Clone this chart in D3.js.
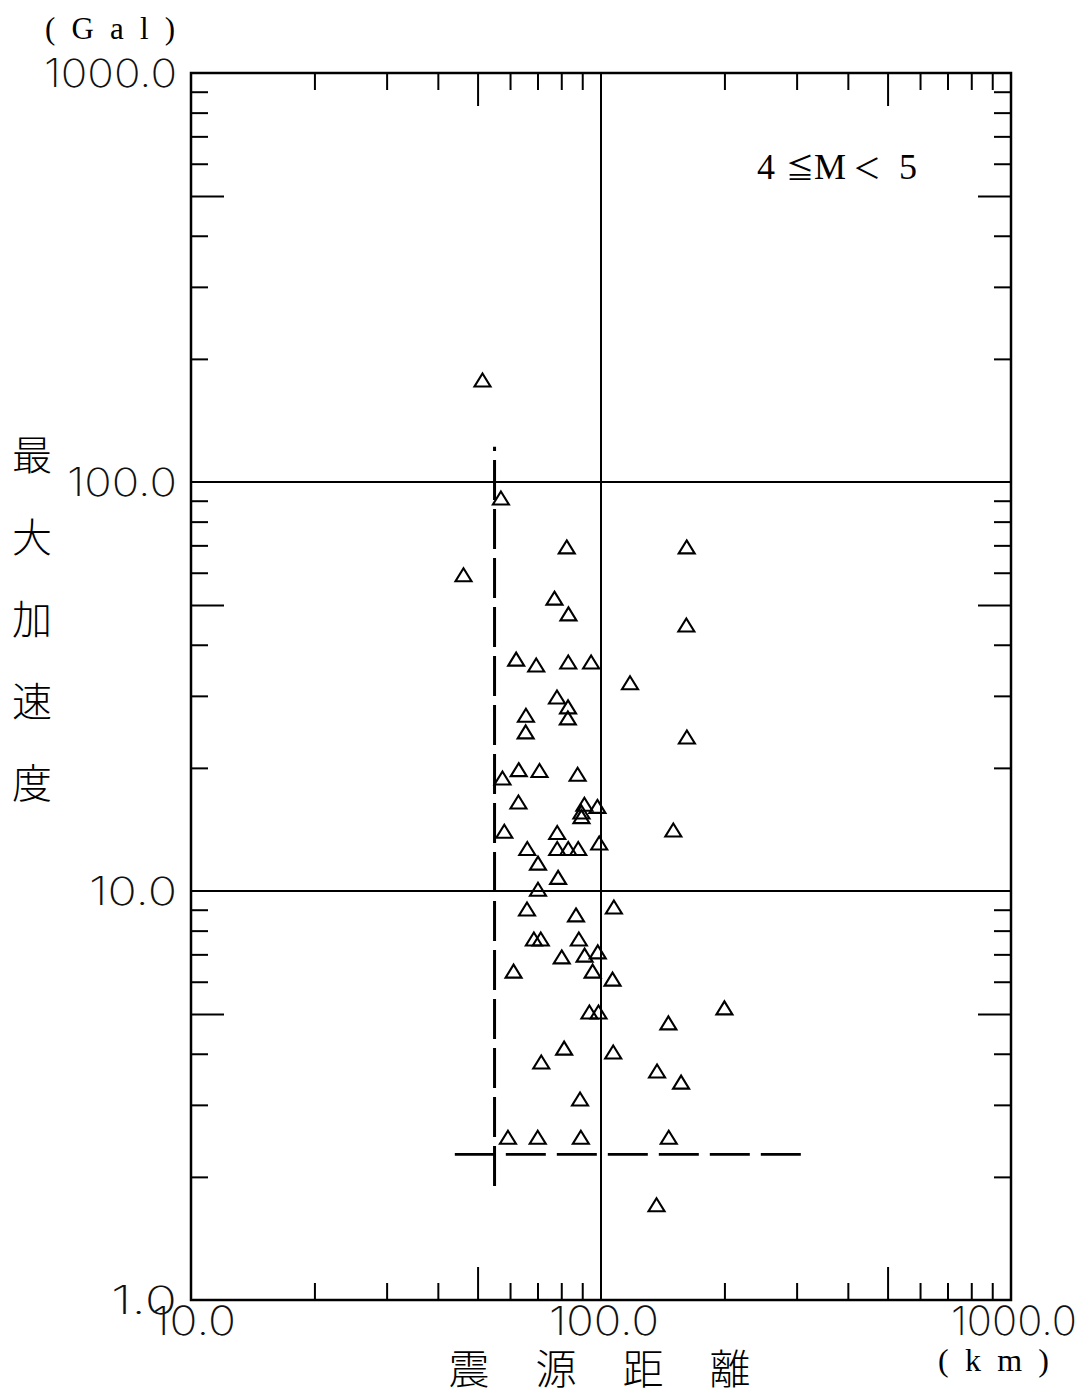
<!DOCTYPE html>
<html>
<head>
<meta charset="utf-8">
<script src="https://cdn.jsdelivr.net/npm/d3@7"></script>
<style>
  html, body { margin: 0; padding: 0; background: #fff; }
  svg { display: block; }
</style>
</head>
<body>
<svg id="chart" width="1091" height="1395"></svg>
<script>
// ---------------- data ----------------
// hypocentral distance (km)
const distances = [
  51.4, 57.0, 82.5, 161.8, 46.2, 77.0, 83.3, 161.5, 62.1, 69.5,
  83.2, 94.6, 117.7, 78.1, 83.1, 65.6, 83.0, 65.5, 162.0, 57.5,
  63.0, 70.8, 87.7, 62.9, 91.1, 98.0, 89.6, 89.6, 58.1, 78.2,
  150.1, 66.1, 78.2, 83.2, 88.0, 99.0, 70.2, 78.6, 70.2, 66.0,
  86.9, 107.5, 68.6, 71.3, 88.3, 80.2, 91.2, 98.2, 61.2, 95.4,
  106.7, 93.7, 98.6, 200.0, 146.0, 81.3, 71.5, 107.1, 137.0, 156.8,
  88.9, 59.3, 70.1, 89.3, 146.3, 136.6
];
// peak acceleration (Gal)
const accelerations = [
  177.6, 91.4, 69.4, 69.4, 59.3, 52.0, 47.6, 44.7, 36.9, 35.7,
  36.3, 36.3, 32.3, 29.8, 28.2, 26.9, 26.5, 24.5, 23.8, 18.9,
  19.8, 19.7, 19.3, 16.5, 16.3, 16.1, 15.6, 15.2, 14.0, 13.9,
  14.1, 12.7, 12.7, 12.7, 12.7, 13.1, 11.7, 10.8, 10.1, 9.04,
  8.74, 9.14, 7.63, 7.63, 7.63, 6.90, 6.97, 7.10, 6.37, 6.37,
  6.09, 5.06, 5.06, 5.18, 4.76, 4.13, 3.82, 4.04, 3.63, 3.41,
  3.10, 2.50, 2.50, 2.50, 2.50, 1.71
];
// dashed threshold lines
const thresholdDistance = [55, 55];
const thresholdDistanceAcc = [1.9, 122];
const thresholdAccDist = [44, 310];
const thresholdAcc = [2.27, 2.27];

const xDomain = [10, 1000];
const yDomain = [1, 1000];
const xTickValues = [10, 100, 1000];
const xTickLabels = ["10.0", "100.0", "1000.0"];
const yTickValues = [1, 10, 100, 1000];
const yTickLabels = ["1.0", "10.0", "100.0", "1000.0"];
const gridX = [100];
const gridY = [10, 100];
const minorMultipliers = [2, 3, 4, 6, 7, 8, 9];
const midMultipliers = [5];

const yTitle = ["最", "大", "加", "速", "度"];
const xTitle = ["震", "源", "距", "離"];
const yUnit = "(Gal)";
const xUnit = "(km)";
const annotation = ["4", "≦", "M", "＜", "5"];

// ---------------- layout ----------------
const L = 191, R = 1011, T = 73, B = 1300;
const svg = d3.select("#chart");

const x = d3.scaleLog().domain(xDomain).range([L, R]);
const y = d3.scaleLog().domain(yDomain).range([B, T]);

function decadeTicks(domain, mults) {
  const out = [];
  for (let p = Math.log10(domain[0]); p < Math.log10(domain[1]); p++) {
    mults.forEach(m => out.push(m * Math.pow(10, p)));
  }
  return out;
}
const minorX = decadeTicks(xDomain, minorMultipliers);
const midX = decadeTicks(xDomain, midMultipliers);
const minorY = decadeTicks(yDomain, minorMultipliers);
const midY = decadeTicks(yDomain, midMultipliers);

const SHORT = 17, LONG = 33;

function drawAxis(axisFn, scale, vals, size, transform) {
  const g = svg.append("g").attr("transform", transform)
    .call(axisFn(scale).tickValues(vals).tickSizeInner(-size).tickSizeOuter(0).tickFormat(""));
  g.select(".domain").remove();
  g.selectAll(".tick line").attr("stroke", "#000").attr("stroke-width", 2);
}
drawAxis(d3.axisBottom, x, minorX, SHORT, `translate(0,${B})`);
drawAxis(d3.axisBottom, x, midX, LONG, `translate(0,${B})`);
drawAxis(d3.axisTop, x, minorX, SHORT, `translate(0,${T})`);
drawAxis(d3.axisTop, x, midX, LONG, `translate(0,${T})`);
drawAxis(d3.axisLeft, y, minorY, SHORT, `translate(${L},0)`);
drawAxis(d3.axisLeft, y, midY, LONG, `translate(${L},0)`);
drawAxis(d3.axisRight, y, minorY, SHORT, `translate(${R},0)`);
drawAxis(d3.axisRight, y, midY, LONG, `translate(${R},0)`);

// grid lines
svg.selectAll(".gx").data(gridX).enter().append("line")
  .attr("x1", d => x(d)).attr("x2", d => x(d)).attr("y1", T).attr("y2", B)
  .attr("stroke", "#000").attr("stroke-width", 2);
svg.selectAll(".gy").data(gridY).enter().append("line")
  .attr("x1", L).attr("x2", R).attr("y1", d => y(d)).attr("y2", d => y(d))
  .attr("stroke", "#000").attr("stroke-width", 2);

// frame
svg.append("rect").attr("x", L).attr("y", T).attr("width", R - L).attr("height", B - T)
  .attr("fill", "none").attr("stroke", "#000").attr("stroke-width", 2.5);

// dashed lines
const line = d3.line().x(d => x(d[0])).y(d => y(d[1]));
svg.append("path")
  .attr("d", line(d3.zip(thresholdDistance, thresholdDistanceAcc)))
  .attr("fill", "none").attr("stroke", "#000").attr("stroke-width", 3)
  .attr("stroke-dasharray", "40,9");
svg.append("path")
  .attr("d", line(d3.zip(thresholdAccDist, thresholdAcc)))
  .attr("fill", "none").attr("stroke", "#000").attr("stroke-width", 2.6)
  .attr("stroke-dasharray", "40,11");

// triangles
const tri = "M0,-6.5L8,6.5L-8,6.5Z";
svg.selectAll(".pt").data(d3.zip(distances, accelerations)).enter().append("path")
  .attr("d", tri)
  .attr("transform", d => `translate(${x(d[0])},${y(d[1])})`)
  .attr("fill", "none").attr("stroke", "#000").attr("stroke-width", 2.1)
  .attr("stroke-linejoin", "miter");

// tick labels
const numFont = "Inter, Roboto, 'Liberation Sans', sans-serif";
const yLabelWidths = { "1.0": 66, "10.0": 88, "100.0": 110, "1000.0": 133 };
const yLabelRight = 177;
svg.selectAll(".yl").data(d3.zip(yTickValues, yTickLabels)).enter().append("text")
  .attr("x", d => yLabelRight - yLabelWidths[d[1]])
  .attr("y", d => y(d[0]) + 14)
  .attr("textLength", d => yLabelWidths[d[1]])
  .attr("lengthAdjust", "spacingAndGlyphs")
  .attr("font-family", numFont).attr("font-size", 39).attr("font-weight", 200)
  .attr("fill", "#111")
  .text(d => d[1]);

const xLabelWidths = { "10.0": 84, "100.0": 110, "1000.0": 126 };
svg.selectAll(".xl").data(d3.zip(xTickValues, xTickLabels)).enter().append("text")
  .attr("x", d => x(d[0]) + 3 - xLabelWidths[d[1]] / 2)
  .attr("y", B + 35)
  .attr("textLength", d => xLabelWidths[d[1]])
  .attr("lengthAdjust", "spacingAndGlyphs")
  .attr("font-family", numFont).attr("font-size", 40).attr("font-weight", 200)
  .attr("fill", "#111")
  .text(d => d[1]);

// units
const serif = "'Liberation Serif', 'DejaVu Serif', serif";
svg.append("text").attr("x", 45).attr("y", 39)
  .attr("textLength", 130).attr("lengthAdjust", "spacing")
  .attr("font-family", serif).attr("font-size", 31).text(yUnit);
svg.append("text").attr("x", 938).attr("y", 1371)
  .attr("textLength", 111).attr("lengthAdjust", "spacing")
  .attr("font-family", serif).attr("font-size", 32).text(xUnit);

// axis titles
const cjk = "'Noto Sans CJK JP', 'Noto Sans CJK SC', sans-serif";
svg.selectAll(".yt").data(yTitle).enter().append("text")
  .attr("x", 32).attr("y", (d, i) => 453 + i * 82)
  .attr("text-anchor", "middle").attr("dominant-baseline", "central")
  .attr("font-family", cjk).attr("font-size", 40).attr("font-weight", 300)
  .text(d => d);
svg.selectAll(".xt").data(xTitle).enter().append("text")
  .attr("x", (d, i) => 469 + i * 87).attr("y", 1366)
  .attr("text-anchor", "middle").attr("dominant-baseline", "central")
  .attr("font-family", cjk).attr("font-size", 41).attr("font-weight", 300)
  .text(d => d);

// annotation 4 ≦ M < 5
const annX = [757, 786, 814, 853, 899];
const ann = svg.append("text").attr("y", 179).attr("font-size", 36).attr("fill", "#000");
annotation.forEach((ch, i) => {
  ann.append("tspan").attr("x", annX[i])
    .attr("font-family", (ch === "≦" || ch === "＜") ? cjk : serif)
    .attr("font-size", (ch === "≦" || ch === "＜") ? 28 : 36)
    .text(ch);
});
</script>
</body>
</html>
